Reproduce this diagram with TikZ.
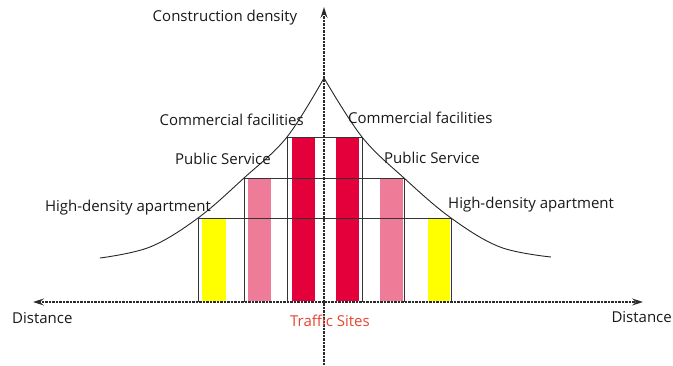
\documentclass[tikz,border=0pt]{standalone}
\usepackage{fontspec}
\setmainfont{Open Sans}
\usetikzlibrary{arrows.meta}
\definecolor{barYellow}{HTML}{FFFF00}
\definecolor{barPink}{HTML}{EE7C99}
\definecolor{barRed}{HTML}{E4003A}
\definecolor{trafficRed}{HTML}{E8452C}
\definecolor{axisGray}{HTML}{2A2A2A}
\tikzset{
  axis/.style={draw=axisGray, line width=1.4pt, dash pattern=on 2.5pt off 1pt, -{Stealth[length=11pt,width=7pt,inset=4pt]}},
  frame/.style={draw=black!80, line width=0.7pt},
  curveline/.style={draw=black!85, line width=0.9pt},
  lbl/.style={font=\fontsize{15}{18}\selectfont, inner sep=0pt, text=black!90},
}
\begin{document}
\begin{tikzpicture}[x=1pt,y=-1pt]
\useasboundingbox (0,0) rectangle (673,365);
% bars
\fill[barYellow] (202,219) rectangle (226,301);
\fill[barPink]   (248,179) rectangle (271,301);
\fill[barRed]    (292,138) rectangle (315,301);
\fill[barRed]    (336,138) rectangle (359,301);
\fill[barPink]   (380,179) rectangle (403,301);
\fill[barYellow] (428,219) rectangle (450,301);
% frames
\draw[frame] (287,302) -- (287,137) -- (362,137) -- (362,302);
\draw[frame] (244,302) -- (244,178) -- (404,178) -- (404,302);
\draw[frame] (198,302) -- (198,218) -- (451,218) -- (451,302);
% curve
\draw[curveline] plot[smooth, tension=0.6] coordinates {(100,258) (150,247) (198,218) (244,178) (287,137) (324,78)};
\draw[curveline] plot[smooth, tension=0.6] coordinates {(324,78) (362,137) (404,178) (451,218) (500,247) (551,257)};
% axes
\coordinate (o) at (324,302);
\coordinate (ytop) at (324,7);
\coordinate (ybot) at (324,365);
\coordinate (xl) at (33,302);
\coordinate (xr) at (643,302);
\draw[axis] (ybot) -- (ytop);
\draw[axis] (o) -- (xl);
\draw[axis] (o) -- (xr);
% labels
\node[lbl, anchor=center] (cd) at (225,18) {Construction density};
\node[lbl, anchor=east] (cfl) at (304,120) {Commercial facilities};
\node[lbl, anchor=west] (cfr) at (348,118) {Commercial facilities};
\node[lbl, anchor=east] (psl) at (271,159) {Public Service};
\node[lbl, anchor=west] (psr) at (384,158) {Public Service};
\node[lbl, anchor=east] (hal) at (211,208) {High-density apartment};
\node[lbl, anchor=west] (har) at (448,205) {High-density apartment};
\node[lbl, anchor=west] (dl) at (12,318) {Distance};
\node[lbl, anchor=east] (dr) at (672,317) {Distance};
\node[lbl, anchor=center, text=trafficRed] (ts) at (330,321) {Traffic Sites};
\end{tikzpicture}
\end{document}
